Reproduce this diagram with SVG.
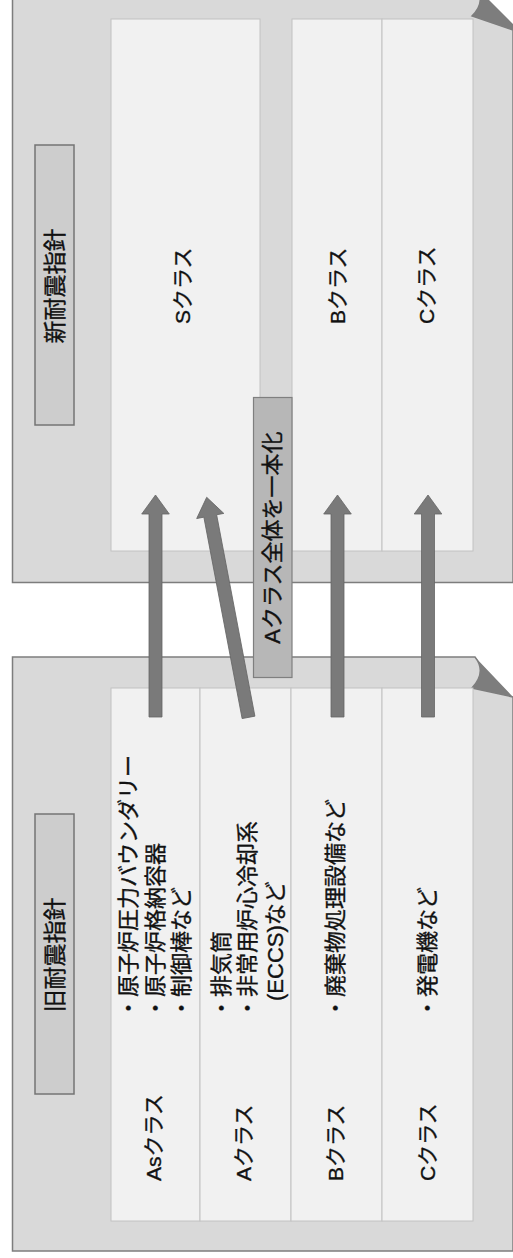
<svg xmlns="http://www.w3.org/2000/svg" xmlns:xlink="http://www.w3.org/1999/xlink" width="513" height="1258" viewBox="0 0 513 1258">
<defs>
<style>
.panel{fill:#d9d9d9;stroke:#7d7d7d;stroke-width:1.5}
.inner{fill:#f1f1f1;stroke:#c2c2c2;stroke-width:1}
.lbl{fill:#cdcdcd;stroke:#747474;stroke-width:1.5}
.lblA{fill:#b7b7b7;stroke:#7f7f7f;stroke-width:1.2}
.fold{fill:#7d7d7d}
.arrow{fill:#7a7a7a;stroke:#666;stroke-width:0.8}
text{font-family:"Liberation Sans","Noto Sans CJK JP",sans-serif;font-size:22px;fill:#111;stroke:#111;stroke-width:0.35;dominant-baseline:central}
.mid{text-anchor:middle}
.cls{font-size:21px}
.big{font-size:23px}
</style>
<path id="arrowV" d="M0,0 L13.8,19 L6.5,19 L6.5,222 L-6.5,222 L-6.5,19 L-13.8,19 Z"/>
<path id="arrowS" d="M0,0 L13.8,19 L6.5,19 L6.5,224 L-6.5,224 L-6.5,19 L-13.8,19 Z"/>
</defs>
<rect width="513" height="1258" fill="#ffffff"/>

<g id="new-panel">
<path class="panel" d="M12.5,-14 L475,-14 Q487,1 472,16 L513,30 L513,582.5 L12.5,582.5 Z"/>
<path class="fold" d="M475,-14 Q487,1 472,16 L513,30 L513,24 Z"/>
<rect class="inner" x="111" y="19" width="149" height="532"/>
<rect class="inner" x="292" y="19" width="90" height="532"/>
<rect class="inner" x="382" y="19" width="91" height="532"/>
</g>
<g id="new-label">
<rect class="lbl" x="35" y="145" width="39" height="280"/>
<text class="mid big" transform="rotate(-90 54.5 286)" x="54.5" y="286">新耐震指針</text>
</g>
<g id="new-S"><text class="cls" transform="rotate(-90 182 324)" x="182" y="324">Sクラス</text></g>
<g id="new-B"><text class="cls" transform="rotate(-90 337 324)" x="337" y="324">Bクラス</text></g>
<g id="new-C"><text class="cls" transform="rotate(-90 426 324)" x="426" y="324">Cクラス</text></g>

<g id="old-panel">
<path class="panel" d="M12.5,657 L475,657 Q487,672 472,688 L513,697 L513,1251 L12.5,1251 Z"/>
<path class="fold" d="M475,657 Q487,672 472,688 L513,697 Z"/>
<rect class="inner" x="111" y="688" width="89" height="533"/>
<rect class="inner" x="200" y="688" width="91" height="533"/>
<rect class="inner" x="291" y="688" width="91" height="533"/>
<rect class="inner" x="382" y="688" width="91" height="533"/>
</g>
<g id="old-label">
<rect class="lbl" x="35" y="814" width="39" height="280"/>
<text class="mid big" transform="rotate(-90 54.5 955)" x="54.5" y="955">旧耐震指針</text>
</g>
<g id="old-As">
<text class="cls" transform="rotate(-90 153 1181)" x="153" y="1181">Asクラス</text>
<text transform="rotate(-90 128 1019)" x="128" y="1019">・原子炉圧力バウンダリー</text>
<text transform="rotate(-90 155 1019)" x="155" y="1019">・原子炉格納容器</text>
<text transform="rotate(-90 181 1019)" x="181" y="1019">・制御棒など</text>
</g>
<g id="old-A">
<text class="cls" transform="rotate(-90 243 1181)" x="243" y="1181">Aクラス</text>
<text transform="rotate(-90 221 1019)" x="221" y="1019">・排気筒</text>
<text transform="rotate(-90 247 1019)" x="247" y="1019">・非常用炉心冷却系</text>
<text transform="rotate(-90 275 1001)" x="275" y="1001">(ECCS)など</text>
</g>
<g id="old-B">
<text class="cls" transform="rotate(-90 335 1181)" x="335" y="1181">Bクラス</text>
<text transform="rotate(-90 335 1019)" x="335" y="1019">・廃棄物処理設備など</text>
</g>
<g id="old-C">
<text class="cls" transform="rotate(-90 427 1181)" x="427" y="1181">Cクラス</text>
<text transform="rotate(-90 427 1019)" x="427" y="1019">・発電機など</text>
</g>

<g id="connectors">
<use class="arrow" xlink:href="#arrowV" transform="translate(155.5,495)"/>
<use class="arrow" xlink:href="#arrowS" transform="translate(206.7,497.3) rotate(-10.76)"/>
<use class="arrow" xlink:href="#arrowV" transform="translate(337.5,495)"/>
<use class="arrow" xlink:href="#arrowV" transform="translate(428,495)"/>
</g>

<g id="unify-label">
<rect class="lblA" x="253.5" y="397.5" width="38.5" height="280"/>
<text class="mid" transform="rotate(-90 272.5 537.5)" x="272.5" y="537.5">Aクラス全体を一本化</text>
</g>
</svg>
